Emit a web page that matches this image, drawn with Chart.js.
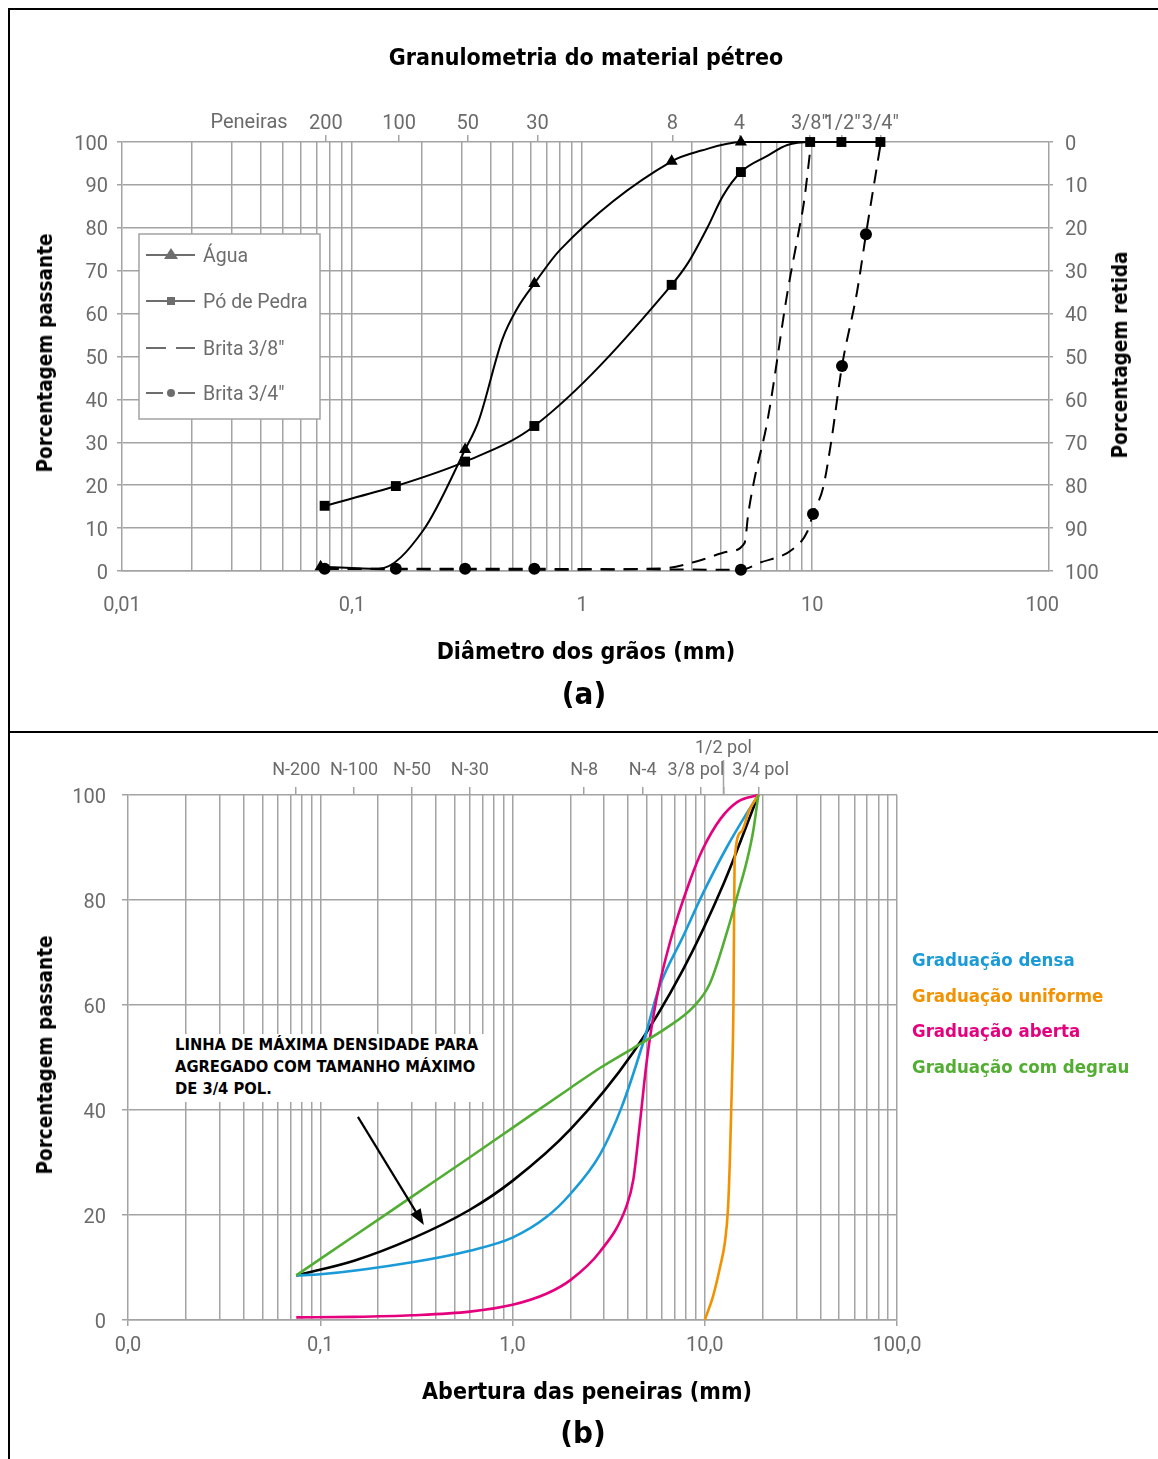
<!DOCTYPE html>
<html><head><meta charset="utf-8">
<script src="https://cdn.jsdelivr.net/npm/chart.js@4"></script>
<style>
body{margin:0;background:#fff;}
#page{position:relative;width:1158px;height:1459px;overflow:hidden;background:#fff;}
canvas{position:absolute;left:0;}
.ln{position:absolute;background:#000;}
.t{position:absolute;white-space:nowrap;transform:translate(-50%,-50%);
   font-family:"DejaVu Sans Condensed","DejaVu Sans",sans-serif;font-stretch:condensed;font-weight:bold;color:#000;}
.rot{transform:translate(-50%,-50%) rotate(-90deg);}
#note{position:absolute;left:168px;top:1034px;width:320px;height:68px;background:#fff;
   font-family:"DejaVu Sans Condensed","DejaVu Sans",sans-serif;font-stretch:condensed;font-weight:bold;
   font-size:16.4px;line-height:22px;padding-left:7px;box-sizing:border-box;white-space:nowrap;}
#leg{position:absolute;left:912px;top:942px;font-family:"DejaVu Sans Condensed","DejaVu Sans",sans-serif;
   font-stretch:condensed;font-weight:bold;font-size:18.5px;line-height:35.5px;white-space:nowrap;}
</style></head>
<body><div id="page">
<canvas id="cA" width="1158" height="732" style="top:0"></canvas>
<canvas id="cB" width="1158" height="727" style="top:732px"></canvas>

<div class="ln" style="left:8px;top:8px;width:1150px;height:2px"></div>
<div class="ln" style="left:8px;top:8px;width:2px;height:1451px"></div>
<div class="ln" style="left:8px;top:731px;width:1150px;height:2px"></div>

<div class="t" style="left:586px;top:57px;font-size:23px">Granulometria do material pétreo</div>
<div class="t" style="left:586px;top:651px;font-size:23px">Diâmetro dos grãos (mm)</div>
<div class="t" style="left:584px;top:693px;font-size:31px">(a)</div>
<div class="t rot" style="left:45px;top:353px;font-size:20.5px">Porcentagem passante</div>
<div class="t rot" style="left:1120px;top:355px;font-size:20.5px">Porcentagem retida</div>

<div class="t rot" style="left:45px;top:1055px;font-size:20.5px">Porcentagem passante</div>
<div class="t" style="left:587px;top:1391px;font-size:23px">Abertura das peneiras (mm)</div>
<div class="t" style="left:583px;top:1432px;font-size:31px">(b)</div>

<div id="note">LINHA DE MÁXIMA DENSIDADE PARA<br>AGREGADO COM TAMANHO MÁXIMO<br>DE 3/4 POL.</div>
<div id="leg"></div>
</div>
<script>
// ── (a) Granulometria do material pétreo ─────────────────────────────
const sieveA       = [0.077, 0.16, 0.318, 0.64, 2.47, 4.83, 9.73, 13.5, 19.8];
const sieveLabelsA = ["200", "100", "50", "30", "8", "4", "3/8\"", "1/2\"", "3/4\""];

const aguaX  = [0.073, 0.13, 0.204, 0.31, 0.355, 0.45, 0.52, 0.62, 0.8, 2.45, 3.3, 4.9, 9.8];
const aguaY  = [1, 0.5, 9.5, 28.3, 35, 54, 61, 67, 74.8, 95.5, 98, 100, 100];
const aguaMk = [1, 0, 0, 1, 0, 0, 0, 1, 0, 1, 0, 1, 0];

const poX  = [0.076, 0.155, 0.31, 0.62, 2.45, 2.9, 3.5, 4.1, 4.9, 6.35, 7.8, 9.8, 13.4, 19.8];
const poY  = [15.2, 19.8, 25.5, 33.8, 66.7, 72, 80, 87.5, 93, 96.7, 99.3, 100, 100, 100];
const poMk = [1, 1, 1, 1, 1, 0, 0, 0, 1, 0, 0, 1, 1, 1];

const b38X = [0.076, 0.62, 2.24, 3.27, 4.3, 5.08, 5.28, 5.59, 6.39, 7.81, 8.8, 9.2, 9.9];
const b38Y = [0.5, 0.3, 0.6, 2.5, 4.5, 6.5, 13.5, 21, 35, 65, 80, 85.8, 100];

const b34X  = [0.076, 0.155, 0.31, 0.62, 4.9, 5.9, 8.2, 9.53, 10.08, 11.14, 12.07, 13.48, 15.66, 17.13, 19.9];
const b34Y  = [0.5, 0.5, 0.5, 0.5, 0.3, 1.9, 5, 9.2, 13.3, 19.3, 29.8, 47.8, 65, 78.5, 100];
const b34Mk = [1, 1, 1, 1, 1, 0, 0, 0, 1, 0, 0, 1, 0, 1, 0];

// ── (b) Abertura das peneiras ────────────────────────────────────────
const sieveB       = [0.075, 0.15, 0.3, 0.6, 2.36, 4.75, 9.5, 12.5, 19];
const sieveLabelsB = ["N-200", "N-100", "N-50", "N-30", "N-8", "N-4", "3/8 pol  ", ["1/2 pol", ""], " 3/4 pol"];

const densaX = [0.075, 0.1, 0.3, 0.6, 1.0, 1.5, 2.0, 2.85, 3.7, 4.8, 5.8, 7.7, 9.8, 13, 16.6, 19];
const densaY = [8.5, 8.7, 11, 13.2, 15.7, 19.6, 24, 31.5, 40.6, 53, 63.4, 73, 81.3, 90, 96.6, 100];

const unifX = [10, 11.04, 12, 12.75, 13.2, 13.5, 13.8, 14.1, 14.2, 14.3, 15.5, 17, 19];
const unifY = [0, 4.5, 10, 15, 21, 30, 43, 60, 75, 87.6, 93, 97, 100];

const abertaX = [0.075, 0.15, 0.3, 0.6, 1.0, 1.5, 2.0, 2.85, 3.9, 4.25, 4.6, 5.0, 5.6, 6.6, 8.4, 9.8, 12.1, 14.8, 19];
const abertaY = [0.5, 0.6, 0.9, 1.6, 2.9, 5, 7.6, 13, 21.5, 26.7, 37.5, 49.5, 61, 72, 83.8, 89.8, 95.5, 98.7, 100];

const degrauX = [0.075, 0.15, 0.3, 0.6, 1.0, 2.0, 2.85, 4.25, 6.3, 8.7, 10.6, 13, 14.9, 16.6, 17.9, 19];
const degrauY = [8.5, 16, 23.5, 31, 36.6, 44.2, 48, 51.8, 55.6, 59.6, 64, 73.7, 81.3, 87.6, 93.3, 100];

const maxX = [0.075, 0.15, 0.3, 0.6, 1.0, 2.0, 4.25, 7.7, 12.5, 19];
const maxY = [8.5, 11.3, 15.5, 21, 26.5, 36.3, 51, 66.7, 83, 100];

const legendB = [
  ["Graduação densa", "#1a9bd7"],
  ["Graduação uniforme", "#f39200"],
  ["Graduação aberta", "#e5007d"],
  ["Graduação com degrau", "#52ae32"],
];

const GRID = "#a3a3a3";
const TICK = "#6b6b6b";
const SANS = "Roboto, 'Noto Sans', sans-serif";
const NONE = "rgba(0,0,0,0)";

const isDecade = v => Math.abs(Math.log10(v) - Math.round(Math.log10(v))) < 1e-6;
function logGrid(lo, hi){
  const out = [];
  for (let e = lo; e < hi; e++) for (let m = 1; m < 10; m++) out.push(+(m * Math.pow(10, e)).toPrecision(3));
  out.push(Math.pow(10, hi));
  return out;
}
const pts = (xs, ys) => xs.map((x, i) => ({ x, y: ys[i] }));

function mkA(label, xs, ys, marks, style, r, dash){
  return { label, xAxisID:"x", yAxisID:"y", data: pts(xs, ys),
    borderColor:"#000", backgroundColor:"#000", borderWidth:2, borderDash: dash || [],
    pointStyle: style, pointRadius: marks ? marks.map(m => m ? r : 0) : 0,
    pointBorderWidth:0, cubicInterpolationMode:"monotone", fill:false, clip:false };
}

// legend + "Peneiras" for chart (a)
const extrasA = {
  id:"extrasA",
  beforeDatasetsDraw(chart){
    const c = chart.ctx, col = "#6d6d6d";
    c.save();
    c.fillStyle = "#fff"; c.strokeStyle = GRID; c.lineWidth = 1.5;
    c.fillRect(139, 234, 181, 185); c.strokeRect(139, 234, 181, 185);
    const rows = [["Água", "tri"], ["Pó de Pedra", "sq"], ["Brita 3/8\"", "dash"], ["Brita 3/4\"", "dot"]];
    const ys = [255, 301, 348, 393];
    c.font = "19.5px " + SANS; c.textBaseline = "middle";
    rows.forEach(([txt, k], i) => {
      const y = ys[i];
      c.strokeStyle = col; c.fillStyle = col; c.lineWidth = 2;
      c.beginPath();
      if (k === "dash") { c.moveTo(146, y); c.lineTo(166, y); c.moveTo(176, y); c.lineTo(195, y); }
      else if (k === "dot") { c.moveTo(146, y); c.lineTo(163, y); c.moveTo(178, y); c.lineTo(195, y); }
      else { c.moveTo(146, y); c.lineTo(195, y); }
      c.stroke();
      c.beginPath();
      if (k === "tri") { c.moveTo(171, y - 7); c.lineTo(178, y + 4); c.lineTo(164, y + 4); c.closePath(); c.fill(); }
      if (k === "sq") { c.fillRect(167, y - 4, 8, 8); }
      if (k === "dot") { c.arc(171, y, 4, 0, Math.PI * 2); c.fill(); }
      c.fillText(txt, 203, y + 2);
    });
    c.fillStyle = TICK; c.textAlign = "center";
    c.font = "20px " + SANS;
    c.fillText("Peneiras", 249, 123);
    c.restore();
  }
};

new Chart(document.getElementById("cA"), {
  type:"line",
  data:{ datasets:[
    mkA("Água", aguaX, aguaY, aguaMk, "triangle", 7),
    mkA("Pó de Pedra", poX, poY, poMk, "rect", 7),
    mkA("Brita 3/8\"", b38X, b38Y, null, "circle", 0, [14, 9]),
    mkA("Brita 3/4\"", b34X, b34Y, b34Mk, "circle", 6, [14, 9]),
  ]},
  options:{
    responsive:false, animation:false, layout:{ padding:0 },
    plugins:{ legend:{ display:false }, tooltip:{ enabled:false } },
    scales:{
      x:{ type:"logarithmic", position:"bottom", min:0.01, max:107,
        afterBuildTicks: s => { s.ticks = logGrid(-2, 2).map(v => ({ value:v })); },
        afterFit: s => { s.height = 161; },
        grid:{ color: ctx => (ctx.tick && ctx.tick.value > 0.011 && ctx.tick.value < 10.5) ? GRID : NONE,
               lineWidth:1.5, drawTicks:false },
        border:{ color:GRID, width:1.5 },
        ticks:{ autoSkip:false, maxRotation:0, padding:23, color:TICK, font:{ family:SANS, size:20 },
          callback: v => isDecade(v) ? String(v).replace(".", ",") : "" } },
      xTop:{ type:"logarithmic", position:"top", min:0.01, max:107,
        afterBuildTicks: s => { s.ticks = sieveA.map(v => ({ value:v })); },
        afterFit: s => { s.height = 142; },
        grid:{ drawOnChartArea:false, color:GRID, lineWidth:1.5, tickLength:7 },
        border:{ display:false },
        ticks:{ autoSkip:false, maxRotation:0, padding:-1, color:TICK, font:{ family:SANS, size:20 },
          callback: (v, i) => sieveLabelsA[i] } },
      y:{ min:0, max:100, position:"left", afterFit: s => { s.width = 122; },
        grid:{ color:GRID, lineWidth:1.5, tickLength:5 }, border:{ color:GRID, width:1.5 },
        ticks:{ stepSize:10, padding:9, labelOffset:2.5, color:TICK, font:{ family:SANS, size:20 } } },
      y2:{ min:0, max:100, reverse:true, position:"right", afterFit: s => { s.width = 109; },
        grid:{ drawOnChartArea:false, color:GRID, lineWidth:1.5, tickLength:4 }, border:{ color:GRID, width:1.5 },
        ticks:{ stepSize:10, padding:12, labelOffset:2.5, color:TICK, font:{ family:SANS, size:20 } } },
    }
  },
  plugins:[extrasA]
});

// ── chart (b) ───────────────────────────────────────────────────────
function mkB(label, xs, ys, color){
  return { label, data: pts(xs, ys), borderColor:color, backgroundColor:color, borderWidth:2.6,
    pointRadius:0, cubicInterpolationMode:"monotone", fill:false, clip:false };
}

const extrasB = {
  id:"extrasB",
  afterDraw(chart){
    const c = chart.ctx, xt = chart.scales.xTop, x = chart.scales.x, y = chart.scales.y;
    c.save();
    // longer tick for 1/2 pol
    const hx = Math.round(xt.getPixelForValue(12.5)) + 0.5;
    c.strokeStyle = GRID; c.lineWidth = 1.5;
    c.beginPath(); c.moveTo(hx, chart.chartArea.top); c.lineTo(hx, chart.chartArea.top - 35); c.stroke();
    // arrow towards the maximum density line
    const x0 = x.getPixelForValue(0.157), y0 = y.getPixelForValue(38.7);
    const x1 = x.getPixelForValue(0.346), y1 = y.getPixelForValue(18.1);
    const a = Math.atan2(y1 - y0, x1 - x0);
    c.strokeStyle = "#000"; c.fillStyle = "#000"; c.lineWidth = 2.2;
    c.beginPath(); c.moveTo(x0, y0);
    c.lineTo(x1 - 10 * Math.cos(a), y1 - 10 * Math.sin(a)); c.stroke();
    c.beginPath(); c.moveTo(x1, y1);
    c.lineTo(x1 - 16 * Math.cos(a) + 6 * Math.sin(a), y1 - 16 * Math.sin(a) - 6 * Math.cos(a));
    c.lineTo(x1 - 16 * Math.cos(a) - 6 * Math.sin(a), y1 - 16 * Math.sin(a) + 6 * Math.cos(a));
    c.closePath(); c.fill();
    c.restore();
  }
};

new Chart(document.getElementById("cB"), {
  type:"line",
  data:{ datasets:[
    mkB("Graduação com degrau", degrauX, degrauY, legendB[3][1]),
    mkB("Graduação uniforme", unifX, unifY, legendB[1][1]),
    mkB("Graduação aberta", abertaX, abertaY, legendB[2][1]),
    mkB("Graduação densa", densaX, densaY, legendB[0][1]),
    mkB("Máxima densidade", maxX, maxY, "#000"),
  ]},
  options:{
    responsive:false, animation:false, layout:{ padding:{ right:261 } },
    plugins:{ legend:{ display:false }, tooltip:{ enabled:false } },
    scales:{
      x:{ type:"logarithmic", position:"bottom", min:0.01, max:100,
        afterBuildTicks: s => { s.ticks = logGrid(-2, 2).map(v => ({ value:v })); },
        afterFit: s => { s.height = 139; },
        grid:{ color: ctx => (ctx.tick && ctx.tick.value > 0.011) ? GRID : NONE, lineWidth:1.5, tickLength:6,
               tickColor: ctx => (ctx.tick && isDecade(ctx.tick.value)) ? GRID : NONE },
        border:{ color:GRID, width:1.5 },
        ticks:{ autoSkip:false, maxRotation:0, padding:8, color:TICK, font:{ family:SANS, size:20 },
          callback: v => isDecade(v) ? v.toFixed(1).replace(".", ",") : "" } },
      xTop:{ type:"logarithmic", position:"top", min:0.01, max:100,
        afterBuildTicks: s => { s.ticks = sieveB.map(v => ({ value:v })); },
        afterFit: s => { s.height = 63; },
        grid:{ drawOnChartArea:false, color:GRID, lineWidth:1.5, tickLength:8 },
        border:{ display:false },
        ticks:{ autoSkip:false, maxRotation:0, padding:6, color:TICK, font:{ family:SANS, size:18 },
          callback: (v, i) => sieveLabelsB[i] } },
      y:{ min:0, max:100, position:"left", afterFit: s => { s.width = 128; },
        grid:{ color:GRID, lineWidth:1.5, tickLength:6 }, border:{ color:GRID, width:1.5 },
        ticks:{ stepSize:20, padding:16, labelOffset:2.5, color:TICK, font:{ family:SANS, size:20 } } },
    }
  },
  plugins:[extrasB]
});

document.getElementById("leg").innerHTML =
  legendB.map(([t, c]) => `<div style="color:${c}">${t}</div>`).join("");
</script>
</body></html>
